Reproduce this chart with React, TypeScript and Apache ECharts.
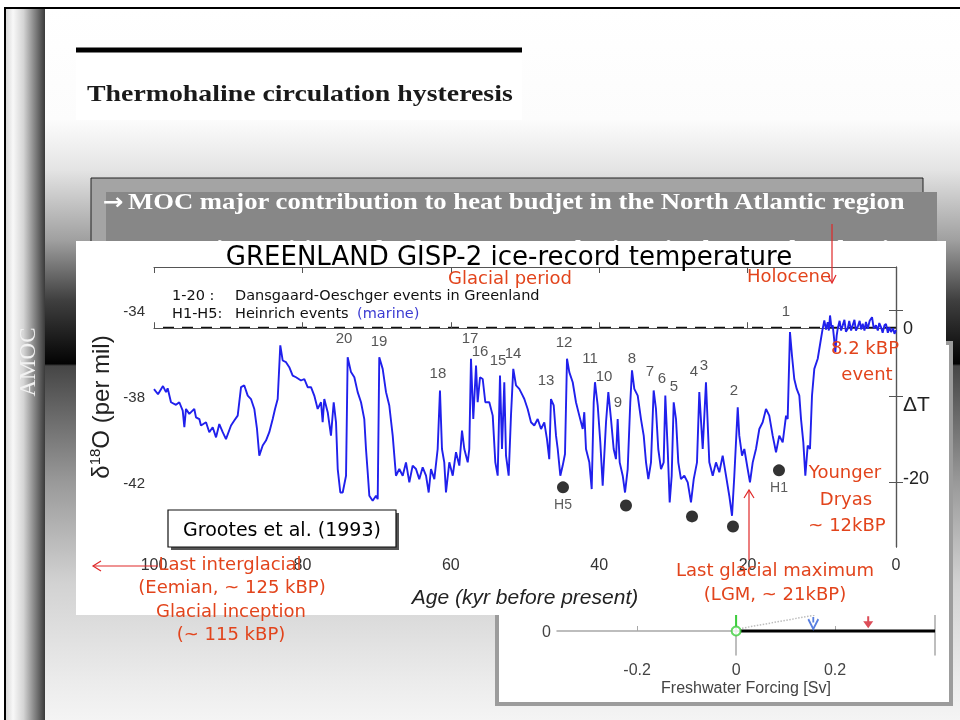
import React, { useEffect, useRef } from 'react';
import * as echarts from 'echarts';

// GISP-2 delta-18O record: age (kyr BP) and value (per mil)
const recordAge = [
  100.0, 99.46, 98.79, 98.38, 98.16, 97.71, 97.04, 96.59, 96.13, 95.91,
  95.69, 95.24, 94.57, 94.34, 93.89, 93.67, 92.99, 92.55, 92.09, 91.64,
  91.2, 90.74, 90.3, 89.62, 89.18, 88.72, 88.27, 87.83, 87.37, 86.93,
  86.48, 86.12, 85.81, 85.35, 84.91, 84.46, 84.0, 83.69, 83.33, 82.98,
  82.66, 82.21, 81.77, 81.31, 80.86, 80.19, 79.74, 79.29, 78.84, 78.4,
  77.94, 77.49, 77.27, 77.05, 76.59, 76.15, 75.78, 75.47, 75.24, 74.89,
  74.57, 74.12, 73.9, 73.45, 73.0, 72.55, 72.1, 71.66, 71.43, 71.2,
  70.98, 70.53, 70.08, 69.85, 69.64, 69.18, 68.73, 68.29, 67.83, 67.39,
  66.94, 66.48, 66.04, 65.59, 65.14, 64.69, 64.25, 63.79, 63.34, 62.98,
  62.67, 62.22, 61.77, 61.46, 61.19, 60.88, 60.65, 60.2, 59.74, 59.3,
  58.85, 58.49, 58.18, 57.72, 57.51, 57.28, 56.97, 56.6, 56.38, 56.06,
  55.7, 55.35, 54.81, 54.35, 54.0, 53.68, 53.37, 53.1, 52.79, 52.56,
  52.2, 51.89, 51.58, 51.21, 50.77, 50.31,
  50.09, 49.64, 49.19, 48.75, 48.29, 47.84, 47.4, 47.04, 46.73, 46.5,
  46.13, 45.82, 45.59, 45.24, 44.92, 44.61, 44.34, 44.03, 43.57, 43.13,
  42.68, 42.22, 42.01, 41.78, 41.33, 41.01, 40.74, 40.57, 40.2, 39.85,
  39.53, 39.08, 38.77, 38.41, 38.05, 37.74, 37.51, 37.24, 36.83, 36.52,
  36.16, 35.81, 35.58, 35.27, 34.81, 34.37, 34.0, 33.69, 33.38, 33.02,
  32.66, 32.35, 32.04, 31.67, 31.31, 31.09, 30.77, 30.5, 30.23, 29.96,
  29.65, 29.34, 28.98, 28.53, 28.07, 27.63, 27.26, 26.82, 26.51, 26.05,
  25.61, 25.16,
  24.7, 24.26, 23.81, 23.36, 22.91, 22.47, 22.1, 21.79, 21.33, 21.12,
  20.75, 20.44, 19.99, 19.68, 19.31, 18.87, 18.42, 17.97, 17.52, 17.08,
  16.62, 16.17, 15.73, 15.27, 14.82, 14.6, 14.29, 14.02, 13.71, 13.38,
  13.03, 12.8, 12.49, 12.22, 11.9, 11.59, 11.32, 11.01, 10.55, 10.11,
  9.9, 9.66, 9.43, 9.2, 9.05, 8.89, 8.7, 8.53, 8.35, 8.18,
  8.0, 7.86, 7.6, 7.4, 7.18, 6.95, 6.75, 6.51, 6.3, 6.05,
  5.84, 5.6, 5.4, 5.16, 4.9, 4.7, 4.49, 4.25, 4.05, 3.81,
  3.55, 3.23, 3.0, 2.7, 2.45, 2.25, 2.02, 1.8, 1.55, 1.35,
  1.1, 0.9, 0.67, 0.4, 0.2, 0.0,
];
const recordD18O = [
  -37.67, -37.91, -37.53, -37.81, -37.63, -38.28, -38.4, -38.28, -38.67, -39.44,
  -38.59, -38.82, -38.59, -38.98, -39.06, -39.36, -39.21, -39.67, -39.44, -39.91,
  -39.29, -39.67, -39.99, -39.36, -39.13, -38.9, -37.58, -37.5, -37.97, -38.13,
  -38.59, -39.52, -40.76, -40.29, -40.06, -39.67, -39.06, -38.59, -38.13, -35.64,
  -36.34, -36.42, -36.65, -37.04, -37.12, -37.27, -37.2, -37.58, -37.58, -37.97,
  -38.59, -38.28, -39.21, -38.13, -38.74, -39.83, -38.28, -39.21, -41.38, -42.47,
  -42.47, -41.69, -36.19, -36.88, -37.12, -37.81, -38.28, -39.06, -40.45, -41.53,
  -42.62, -42.85, -42.62, -42.78, -36.19, -36.73, -37.81, -38.43, -39.83, -41.69,
  -41.38, -41.69, -41.07, -42.0, -41.22, -41.38, -41.85, -41.3, -41.69, -42.47,
  -41.38, -41.85, -40.45, -37.73, -40.45, -41.07, -42.47, -41.07, -41.69, -40.6,
  -41.22, -39.6, -40.45, -41.07, -40.45, -36.26, -39.06, -36.57, -38.28, -37.12,
  -37.2, -38.28, -38.28, -38.9, -41.07, -41.69, -37.04, -40.45, -37.35, -40.76,
  -41.69, -38.9, -36.73, -37.5, -37.66, -37.97,
  -38.13, -38.59, -39.21, -39.36, -39.06, -39.52, -39.21, -39.99, -40.92, -38.13,
  -38.43, -39.83, -40.45, -41.69, -41.22, -40.68, -36.26, -36.88, -37.35, -38.28,
  -38.9, -39.52, -38.74, -40.45, -41.07, -42.31, -38.28, -37.35, -38.43, -40.14,
  -42.15, -39.21, -37.81, -39.06, -40.45, -40.92, -39.06, -41.07, -41.69, -42.47,
  -41.38, -38.28, -36.8, -37.66, -37.97, -39.06, -39.83, -41.07, -41.85, -41.07,
  -37.73, -38.59, -40.45, -41.38, -41.07, -37.97, -40.45, -42.93, -41.69, -38.28,
  -39.06, -41.07, -41.85, -41.69, -42.0, -42.93, -41.85, -41.07, -37.81, -40.45,
  -37.35, -41.07,
  -41.69, -41.07, -41.53, -40.76, -41.69, -42.62, -43.55, -41.69, -38.51, -39.83,
  -40.76, -40.45, -41.38, -42.0, -41.07, -40.45, -39.52, -39.21, -38.59, -38.9,
  -39.83, -40.6, -39.83, -40.14, -38.9, -39.06, -35.02, -36.11, -37.2, -37.66,
  -37.97, -39.06, -40.14, -41.69, -40.29, -40.45, -37.97, -36.73, -36.26, -35.33,
  -34.9, -34.48, -34.9, -34.56, -34.95, -34.25, -34.8, -34.71, -35.3, -35.95,
  -35.2, -34.87, -34.5, -34.95, -34.71, -34.45, -35.0, -34.87, -34.5, -34.95,
  -34.71, -34.45, -34.95, -34.79, -34.5, -34.9, -34.64, -34.95, -34.55, -34.87,
  -34.5, -34.33, -34.85, -34.71, -34.95, -34.6, -34.79, -35.05, -34.7, -34.64,
  -35.05, -34.8, -35.02, -34.85, -35.1, -34.93,
];

// Dansgaard-Oeschger event numbers
const doLabels = ['20', '19', '18', '17', '16', '15', '14', '13', '12', '11', '10', '9', '8', '7', '6', '5', '4', '3', '2', '1'];
const doAge = [74.39, 69.68, 61.73, 57.41, 56.06, 53.64, 51.62, 47.17, 44.74, 41.24, 39.35, 37.47, 35.58, 33.15, 31.54, 29.92, 27.22, 25.88, 21.83, 14.82];
const doD18O = [-35.26, -35.4, -36.88, -35.26, -35.86, -36.28, -35.95, -37.21, -35.44, -36.19, -37.02, -38.23, -36.19, -36.79, -37.12, -37.49, -36.79, -36.51, -37.67, -34.0];

// Heinrich events
const heinrichLabels = ['H5', '', '', '', 'H1'];
const heinrichAge = [44.88, 36.39, 27.49, 21.97, 15.77];
const heinrichD18O = [-42.23, -43.07, -43.58, -44.05, -41.44];

// axes
const ageRange = [0, 100];
const ageTicks = [100, 80, 60, 40, 20, 0];
const d18oRange = [-45, -32];
const d18oTicks = [-34, -38, -42];
const holoceneLevel = -34.8;
const deltaTRange = [-29.3, 8.2];
const deltaTTicks = [0, -20];

// hysteresis panel (partly hidden)
const forcingRange = [-0.362, 0.402];
const forcingTicks = [-0.2, 0, 0.2];
const amocRange = [-3, 2];
const amocTicks = [0];
const onBranchForcing = [0.008, 0.402];
const onBranchAmoc = [0, 0];
const pathForcing = [0.012, 0.16];
const pathAmoc = [0.35, 2.0];
const stemForcing = [0, 0];
const stemAmoc = [0.55, 2.0];
const startPoint = [0, 0];
const blueArrow = [0.156, 1.0];
const redArrow = [0.267, 1.1];

const SANS = '"Liberation Sans", Arial, sans-serif';
const COMIC = '"DejaVu Sans", sans-serif';
const SERIF = '"Liberation Serif", "Times New Roman", serif';
const RED = '#e2441c';
const ARROW_RED = '#e02828';

function txt(text: string, x: number, y: number, o: any = {}) {
  const align = o.align || 'center';
  return {
    type: 'text',
    z: o.z ?? 8,
    silent: true,
    x,
    y,
    scaleX: o.scaleX ?? 1,
    rotation: o.rotation ?? 0,
    style: {
      text,
      x: 0,
      y: 0,
      fill: o.fill || '#000',
      fontSize: o.size || 14,
      fontFamily: o.family || COMIC,
      fontWeight: o.weight || 'normal',
      fontStyle: o.style || 'normal',
      align,
      textAlign: align,
      verticalAlign: 'middle',
      textVerticalAlign: 'middle',
    },
  };
}
function seg(x1: number, y1: number, x2: number, y2: number, color: string, w = 1.2, z = 8) {
  return { type: 'line', z, silent: true, shape: { x1, y1, x2, y2 }, style: { stroke: color, lineWidth: w } };
}
function poly(points: number[][], color: string, w = 1.2, z = 8) {
  return { type: 'polyline', z, silent: true, shape: { points }, style: { stroke: color, lineWidth: w, fill: 'none' } };
}
function box(x: number, y: number, width: number, height: number, fill: any, z: number, stroke?: string, lw = 1) {
  return {
    type: 'rect', z, silent: true, shape: { x, y, width, height },
    style: stroke ? { fill, stroke, lineWidth: lw } : { fill },
  };
}

function buildOption() {
  const G = echarts.graphic;
  const bgFill = new G.LinearGradient(0, 0, 0, 1, [
    { offset: 0, color: '#ffffff' },
    { offset: 0.156, color: '#fcfcfc' },
    { offset: 0.226, color: '#e4e4e4' },
    { offset: 0.325, color: '#a0a0a0' },
    { offset: 0.409, color: '#404040' },
    { offset: 0.499, color: '#030303' },
    { offset: 0.502, color: '#464646' },
    { offset: 0.667, color: '#9a9a9a' },
    { offset: 0.807, color: '#d2d2d2' },
    { offset: 0.948, color: '#ececec' },
    { offset: 1, color: '#f4f4f4' },
  ]);
  const barFill = new G.LinearGradient(0, 0, 1, 0, [
    { offset: 0, color: '#d9d9d9' },
    { offset: 0.18, color: '#f8f8f8' },
    { offset: 0.45, color: '#d4d4d4' },
    { offset: 1, color: '#3a3a3a' },
  ]);
  const bullet = { z: 1, align: 'left', family: SERIF, weight: 'bold', size: 23, scaleX: 1.16, fill: '#ffffff' };
  const arrow = { z: 1, align: 'left', family: COMIC, weight: 'bold', size: 22, scaleX: 1.12, fill: '#ffffff' };

  const graphics: any[] = [
    box(0, 0, 960, 720, '#ffffff', 0),
    box(6, 9, 954, 711, bgFill, 0),
    box(6, 9, 39, 711, barFill, 0),
    box(4, 7, 956, 2, '#000', 0),
    box(4, 7, 2, 713, '#000', 0),
    txt('AMOC', 27, 362, { z: 1, rotation: Math.PI / 2, family: SERIF, size: 23, fill: '#f2f2f2' }),
    // title box
    box(76, 50, 446, 70, '#ffffff', 1),
    box(76, 47.5, 446, 5, '#000', 1),
    txt('Thermohaline circulation hysteresis', 87, 93, { z: 1, align: 'left', family: SERIF, weight: 'bold', size: 24, scaleX: 1.16, fill: '#1a1a1a' }),
    // bullet box
    box(91, 178, 832, 110, '#a4a4a4', 1, '#222', 1),
    box(106, 192, 831, 100, '#878787', 1),
    txt('\u2192', 103, 201, arrow),
    txt('MOC major contribution to heat budjet in the North Atlantic region', 128, 201, bullet),
    txt('\u2192', 103, 248, arrow),
    txt('System is sensitive to freshwater perturbations in the North Atlantic', 128, 248, bullet),
    // hysteresis figure frame
    box(497, 343, 454, 361, '#ffffff', 1, '#9c9c9c', 4),
    // main figure
    box(76, 241, 870, 374, '#ffffff', 4),
    // overlay texts
    txt('GREENLAND GISP-2 ice-record temperature', 509, 256, { size: 26, fill: '#000' }),
    txt('1-20 :', 172, 295, { align: 'left', size: 14.5, fill: '#111' }),
    txt('Dansgaard-Oeschger events in Greenland', 235, 295, { align: 'left', size: 14.5, fill: '#111' }),
    txt('H1-H5:', 172, 313, { align: 'left', size: 14.5, fill: '#111' }),
    txt('Heinrich events', 235, 313, { align: 'left', size: 14.5, fill: '#111' }),
    txt('(marine)', 357, 313, { align: 'left', size: 14.5, fill: '#3b3bd2' }),
    txt('\u0394T', 903, 403, { align: 'left', size: 21, family: SANS, fill: '#222' }),
    txt('Glacial period', 510, 277, { size: 18, fill: RED }),
    txt('Holocene', 789, 275, { size: 18, fill: RED }),
    txt('8.2 kBP', 865, 347, { size: 18, fill: RED }),
    txt('event', 867, 373, { size: 18, fill: RED }),
    txt('Younger', 845, 471, { size: 18, fill: RED }),
    txt('Dryas', 846, 498, { size: 18, fill: RED }),
    txt('~ 12kBP', 847, 524, { size: 18, fill: RED }),
    txt('Last interglacial', 230, 563, { size: 18, fill: RED }),
    txt('(Eemian, ~ 125 kBP)', 232, 586, { size: 18, fill: RED }),
    txt('Glacial inception', 231, 610, { size: 18, fill: RED }),
    txt('(~ 115 kBP)', 231, 633, { size: 18, fill: RED }),
    txt('Last glacial maximum', 775, 569, { size: 18, fill: RED }),
    txt('(LGM, ~ 21kBP)', 775, 593, { size: 18, fill: RED }),
    // arrows
    seg(832, 224, 832, 282, ARROW_RED),
    poly([[828, 276], [832, 283], [836, 275]], ARROW_RED),
    seg(158, 566, 93, 566, ARROW_RED),
    poly([[101, 561], [93, 566], [101, 571]], ARROW_RED),
    seg(749, 560, 749, 490, ARROW_RED),
    poly([[744, 498], [749, 490], [754, 498]], ARROW_RED),
    // citation box
    box(171, 513, 228, 37, '#555', 8),
    box(168, 510, 228, 37, '#ffffff', 8, '#111', 1.2),
    txt('Grootes et al. (1993)', 282, 529, { size: 19, fill: '#000' }),
  ];

  const axisGray = '#555';
  const mainAxisCommon = {
    gridIndex: 0,
    type: 'value',
    z: 5,
    axisLine: { show: true, lineStyle: { color: axisGray, width: 1.2 } },
    splitLine: { show: false },
  };
  const hystAxisLine = { show: true, lineStyle: { color: '#a8a8a8', width: 1.5 } };

  return {
    animation: false,
    backgroundColor: 'transparent',
    graphic: { elements: graphics },
    grid: [
      { left: 154, right: 64, top: 267, bottom: 173, show: false },
      { left: 557, right: 25, top: 615, bottom: 65, show: false },
    ],
    xAxis: [
      {
        ...mainAxisCommon,
        position: 'bottom',
        min: ageRange[0], max: ageRange[1], inverse: true,
        axisTick: { customValues: ageTicks, inside: true, length: 6, lineStyle: { color: axisGray } },
        axisLabel: { customValues: ageTicks, color: '#333', fontSize: 16, fontFamily: SANS, margin: 9 },
        name: 'Age (kyr before present)',
        nameLocation: 'middle',
        nameGap: 39,
        nameTextStyle: { fontSize: 21, fontStyle: 'italic', fontFamily: SANS, color: '#222' },
      },
      {
        ...mainAxisCommon,
        position: 'top',
        min: ageRange[0], max: ageRange[1], inverse: true,
        axisTick: { customValues: ageTicks, inside: true, length: 6, lineStyle: { color: axisGray } },
        axisLabel: { show: false },
      },
      {
        gridIndex: 1, type: 'value', z: 2,
        min: forcingRange[0], max: forcingRange[1],
        axisLine: hystAxisLine,
        splitLine: { show: false },
        axisTick: { customValues: forcingTicks, inside: true, length: 5, lineStyle: { color: '#a8a8a8' } },
        axisLabel: { customValues: forcingTicks, color: '#444', fontSize: 16, fontFamily: SANS, margin: 6 },
        name: 'Freshwater Forcing [Sv]',
        nameLocation: 'middle',
        nameGap: 24,
        nameTextStyle: { fontSize: 16, fontFamily: SANS, color: '#444' },
      },
    ],
    yAxis: [
      {
        ...mainAxisCommon,
        position: 'left',
        min: d18oRange[0], max: d18oRange[1],
        axisTick: { customValues: d18oTicks, inside: true, length: 7, lineStyle: { color: axisGray } },
        axisLabel: { customValues: d18oTicks, color: '#333', fontSize: 15, fontFamily: SANS, margin: 9 },
        name: '{n|\u03b4}{s|18}{n|O (per mil)}',
        nameLocation: 'middle',
        nameRotate: 90,
        nameGap: 41,
        nameTextStyle: {
          fontSize: 24, fontFamily: SANS, color: '#222',
          rich: {
            n: { fontSize: 24, fontFamily: SANS, color: '#222', lineHeight: 26 },
            s: { fontSize: 15, fontFamily: SANS, color: '#222', lineHeight: 15, verticalAlign: 'top' },
          },
        },
      },
      {
        ...mainAxisCommon,
        position: 'right',
        min: d18oRange[0], max: d18oRange[1],
        axisTick: { customValues: d18oTicks, inside: true, length: 7, lineStyle: { color: axisGray } },
        axisLabel: { show: false },
      },
      {
        gridIndex: 0, type: 'value', z: 5,
        position: 'right',
        min: deltaTRange[0], max: deltaTRange[1],
        axisLine: { show: false },
        axisTick: { show: false },
        splitLine: { show: false },
        axisLabel: { customValues: deltaTTicks, color: '#222', fontSize: 18, fontFamily: SANS, margin: 7 },
      },
      {
        gridIndex: 1, type: 'value', z: 2,
        position: 'left',
        min: amocRange[0], max: amocRange[1],
        axisLine: hystAxisLine,
        splitLine: { show: false },
        axisTick: { customValues: amocTicks, inside: true, length: 5, lineStyle: { color: '#a8a8a8' } },
        axisLabel: { customValues: amocTicks, color: '#444', fontSize: 16, fontFamily: SANS, margin: 6 },
      },
      {
        gridIndex: 1, type: 'value', z: 2,
        position: 'right',
        min: amocRange[0], max: amocRange[1],
        axisLine: hystAxisLine,
        splitLine: { show: false },
        axisTick: { show: false },
        axisLabel: { show: false },
      },
    ],
    series: [
      {
        name: 'GISP-2 \u03b418O',
        type: 'line',
        xAxisIndex: 0, yAxisIndex: 0, z: 6,
        data: recordAge.map((a, i) => [a, recordD18O[i]]),
        showSymbol: false,
        symbol: 'none',
        lineStyle: { color: '#2020ec', width: 1.9 },
        markLine: {
          silent: true,
          symbol: 'none',
          label: { show: false },
          lineStyle: { color: '#111', type: [11, 8], width: 1.3 },
          data: [{ yAxis: holoceneLevel }],
        },
      },
      {
        name: 'Heinrich events',
        type: 'scatter',
        xAxisIndex: 0, yAxisIndex: 0, z: 6,
        data: heinrichAge.map((a, i) => [a, heinrichD18O[i], heinrichLabels[i]]),
        symbolSize: 12,
        itemStyle: { color: '#000' },
        label: {
          show: true, position: 'bottom', distance: 4,
          formatter: (p: any) => p.data[2],
          fontSize: 14, fontFamily: SANS, color: '#333',
        },
      },
      {
        name: 'D-O events',
        type: 'scatter',
        xAxisIndex: 0, yAxisIndex: 0, z: 6,
        data: doAge.map((a, i) => [a, doD18O[i], doLabels[i]]),
        symbolSize: 1,
        itemStyle: { color: 'rgba(0,0,0,0)' },
        label: {
          show: true, position: 'inside',
          formatter: (p: any) => p.data[2],
          fontSize: 15, fontFamily: SANS, color: '#2a2a2a',
        },
      },
      {
        name: 'on branch',
        type: 'line',
        xAxisIndex: 2, yAxisIndex: 3, z: 3,
        data: onBranchForcing.map((f, i) => [f, onBranchAmoc[i]]),
        showSymbol: false, symbol: 'none',
        lineStyle: { color: '#000', width: 3 },
      },
      {
        name: 'transition',
        type: 'line',
        xAxisIndex: 2, yAxisIndex: 3, z: 3,
        data: pathForcing.map((f, i) => [f, pathAmoc[i]]),
        showSymbol: false, symbol: 'none',
        lineStyle: { color: '#bdbdbd', width: 1.5, type: 'dotted' },
      },
      {
        name: 'stem',
        type: 'line',
        xAxisIndex: 2, yAxisIndex: 3, z: 3,
        data: stemForcing.map((f, i) => [f, stemAmoc[i]]),
        showSymbol: false, symbol: 'none',
        lineStyle: { color: '#3ccf3c', width: 2 },
      },
      {
        name: 'start',
        type: 'scatter',
        xAxisIndex: 2, yAxisIndex: 3, z: 3,
        data: [startPoint],
        symbol: 'circle',
        symbolSize: 9,
        itemStyle: { color: '#ffffff', borderColor: '#3ccf3c', borderWidth: 2 },
      },
      {
        name: 'blue marker',
        type: 'scatter',
        xAxisIndex: 2, yAxisIndex: 3, z: 3,
        data: [blueArrow],
        symbol: 'path://M5,0 L5,5 M0,2 L5,11 L10,2',
        symbolSize: [10, 12],
        itemStyle: { color: 'rgba(0,0,0,0)', borderColor: '#2f5fd8', borderWidth: 2 },
      },
      {
        name: 'red marker',
        type: 'scatter',
        xAxisIndex: 2, yAxisIndex: 3, z: 3,
        data: [redArrow],
        symbol: 'path://M4,0 L6,0 L6,5 L10,5 L5,12 L0,5 L4,5 Z',
        symbolSize: [10, 12],
        itemStyle: { color: '#d3202e' },
      },
    ],
  };
}

export default function App() {
  const ref = useRef<HTMLDivElement>(null);
  useEffect(() => {
    if (!ref.current) return;
    const chart = echarts.init(ref.current, undefined, { renderer: 'svg', width: 960, height: 720 });
    chart.setOption(buildOption() as any);
    return () => chart.dispose();
  }, []);
  return <div ref={ref} style={{ position: 'fixed', left: 0, top: 0, width: 960, height: 720 }} />;
}
